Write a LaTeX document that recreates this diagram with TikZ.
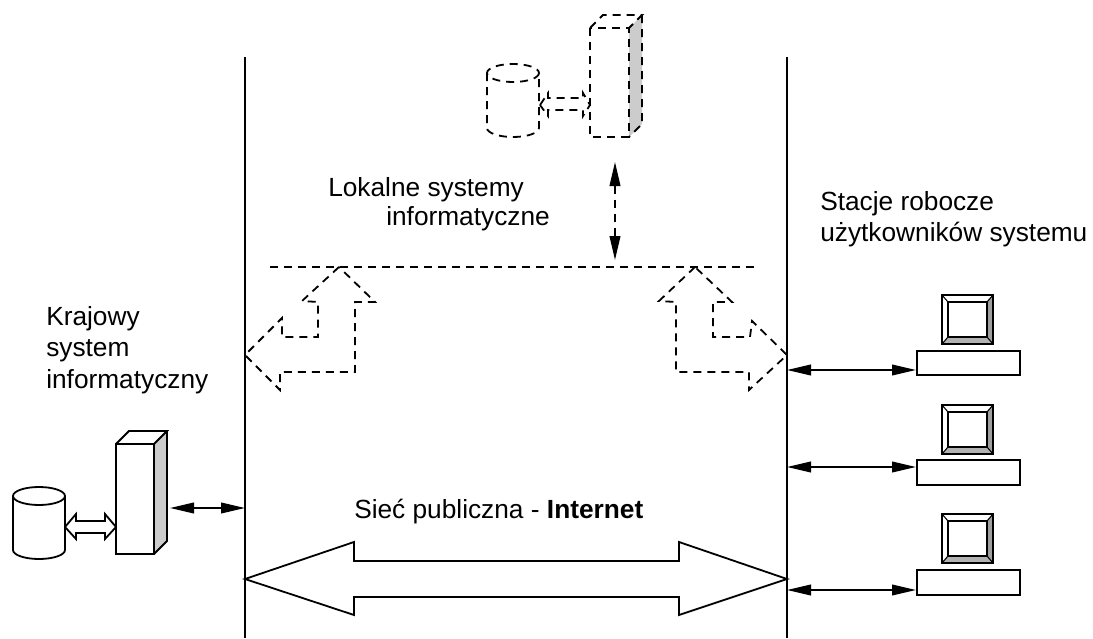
\documentclass[tikz,border=0pt]{standalone}
\usepackage{fontspec}
\setmainfont{Liberation Sans}
\usetikzlibrary{arrows.meta}
\tikzset{
  ln/.style={line width=1.35pt,line join=miter},
  dsh/.style={line width=1.35pt,dash pattern=on 6pt off 4.5pt},
  link/.style={line width=1.35pt,{Triangle[length=18pt,width=8pt]}-{Triangle[length=18pt,width=8pt]}},
  lbl/.style={anchor=base west,inner sep=0pt,font=\fontsize{19.7}{20}\selectfont},
  box/.style={draw,line width=1.35pt,fill=white,inner sep=0pt,anchor=north west},
}
\newcommand{\serverdraw}[5]{%
  \fill[gray!40] (#3,#2) -- (#3+13,#2-13) -- (#3+13,#4-13) -- (#3,#4) -- cycle;
  \draw[#5] (#1,#2) rectangle (#3,#4);
  \draw[#5] (#1,#2) -- (#1+13,#2-13) -- (#3+13,#2-13) -- (#3,#2);
  \draw[#5] (#3+13,#2-13) -- (#3+13,#4-13) -- (#3,#4);
}
\newcommand{\cyldraw}[5]{%
  \draw[#5] (#1,#3+9) -- (#1,#4-9) arc[start angle=180,end angle=360,x radius=(#2-#1)/2,y radius=-9] -- (#2,#3+9);
  \draw[#5] (#2,#3+9) arc[start angle=0,end angle=360,x radius=(#2-#1)/2,y radius=9];
}
\newcommand{\monitordraw}[2]{%
  \fill[white] (#1,#2) rectangle (#1+51,#2+49);
  \fill[gray!75] (#1+51,#2) -- (#1+51,#2+49) -- (#1+45,#2+42) -- (#1+45,#2+7) -- cycle;
  \fill[gray!60] (#1,#2+49) -- (#1+6,#2+42) -- (#1+45,#2+42) -- (#1+51,#2+49) -- cycle;
  \draw[ln] (#1,#2) rectangle (#1+51,#2+49);
  \draw[ln] (#1+6,#2+7) rectangle (#1+45,#2+42);
  \draw[line width=0.8pt] (#1,#2) -- (#1+6,#2+7) (#1+51,#2) -- (#1+45,#2+7) (#1,#2+49) -- (#1+6,#2+42) (#1+51,#2+49) -- (#1+45,#2+42);
}
\begin{document}
\begin{tikzpicture}[x=0.75pt,y=-0.75pt]
\useasboundingbox (0,0) rectangle (1093,639);
\draw[ln] (245,57) -- (245,638);
\draw[ln] (787,57) -- (787,638);
\draw[ln] (245,579) -- (354,542) -- (354,561) -- (679,561) -- (679,542) -- (787,579) -- (679,615) -- (679,597) -- (354,597) -- (354,615) -- cycle;
\coordinate (busL) at (270,267);
\coordinate (busR) at (755,267);
\draw[dsh] (busL) -- (busR);
\draw[dsh] (339,267) -- (302,301) -- (318,302) -- (318,337) -- (282,337) -- (282,318) -- (245,355) -- (280,390) -- (280,372) -- (355,372) -- (355,302) -- (375,302) -- cycle;
\draw[dsh] (695,267) -- (659,301) -- (676,302) -- (676,372) -- (749,372) -- (749,390) -- (787,355) -- (752,321) -- (750,337) -- (713,337) -- (713,302) -- (732,302) -- cycle;
\serverdraw{590}{28}{629}{137}{dsh}
\cyldraw{487}{539}{64}{137}{dsh}
\draw[dsh] (540,105) -- (548,93) -- (548,98) -- (583,98) -- (583,93) -- (590,105) -- (583,116) -- (583,110) -- (548,110) -- (548,116) -- cycle;
\coordinate (locTop) at (615,162);
\coordinate (locBot) at (615,260);
\draw[line width=1.35pt,dash pattern=on 6pt off 4.5pt,{Triangle[length=18pt,width=8pt]}-{Triangle[length=18pt,width=8pt]}] (locTop) -- (locBot);
\serverdraw{116}{444}{154}{554}{ln}
\cyldraw{13}{65}{487}{559}{ln}
\draw[ln] (65,527) -- (76,514) -- (76,521) -- (105,521) -- (105,514) -- (116,527) -- (105,539) -- (105,533) -- (76,533) -- (76,539) -- cycle;
\coordinate (srvR) at (170,508);
\coordinate (lineL) at (245,508);
\draw[link] (srvR) -- (lineL);
\monitordraw{942}{295}
\monitordraw{942}{405}
\monitordraw{942}{514}
\node[box,minimum width=77.25pt,minimum height=18pt] (kb1) at (916,350) {};
\node[box,minimum width=77.25pt,minimum height=18.75pt] (kb2) at (916,459) {};
\node[box,minimum width=77.25pt,minimum height=18.75pt] (kb3) at (916,569) {};
\coordinate (r1) at (787,370);
\coordinate (r2) at (787,467);
\coordinate (r3) at (787,590);
\draw[link] (r1) -- (kb1.west |- r1);
\draw[link] (r2) -- (kb2.west |- r2);
\draw[link] (r3) -- (kb3.west |- r3);
\node[lbl] (t1) at (328,196) {Lokalne systemy};
\node[lbl] (t2) at (386,225) {informatyczne};
\node[lbl] (t3) at (820,210) {Stacje robocze};
\node[lbl] (t4) at (820,241) {użytkowników systemu};
\node[lbl] (t5) at (46,325) {Krajowy};
\node[lbl] (t6) at (46,356) {system};
\node[lbl] (t7) at (46,388) {informatyczny};
\node[lbl] (t8) at (354,518) {Sieć publiczna - \textbf{Internet}};
\end{tikzpicture}
\end{document}
